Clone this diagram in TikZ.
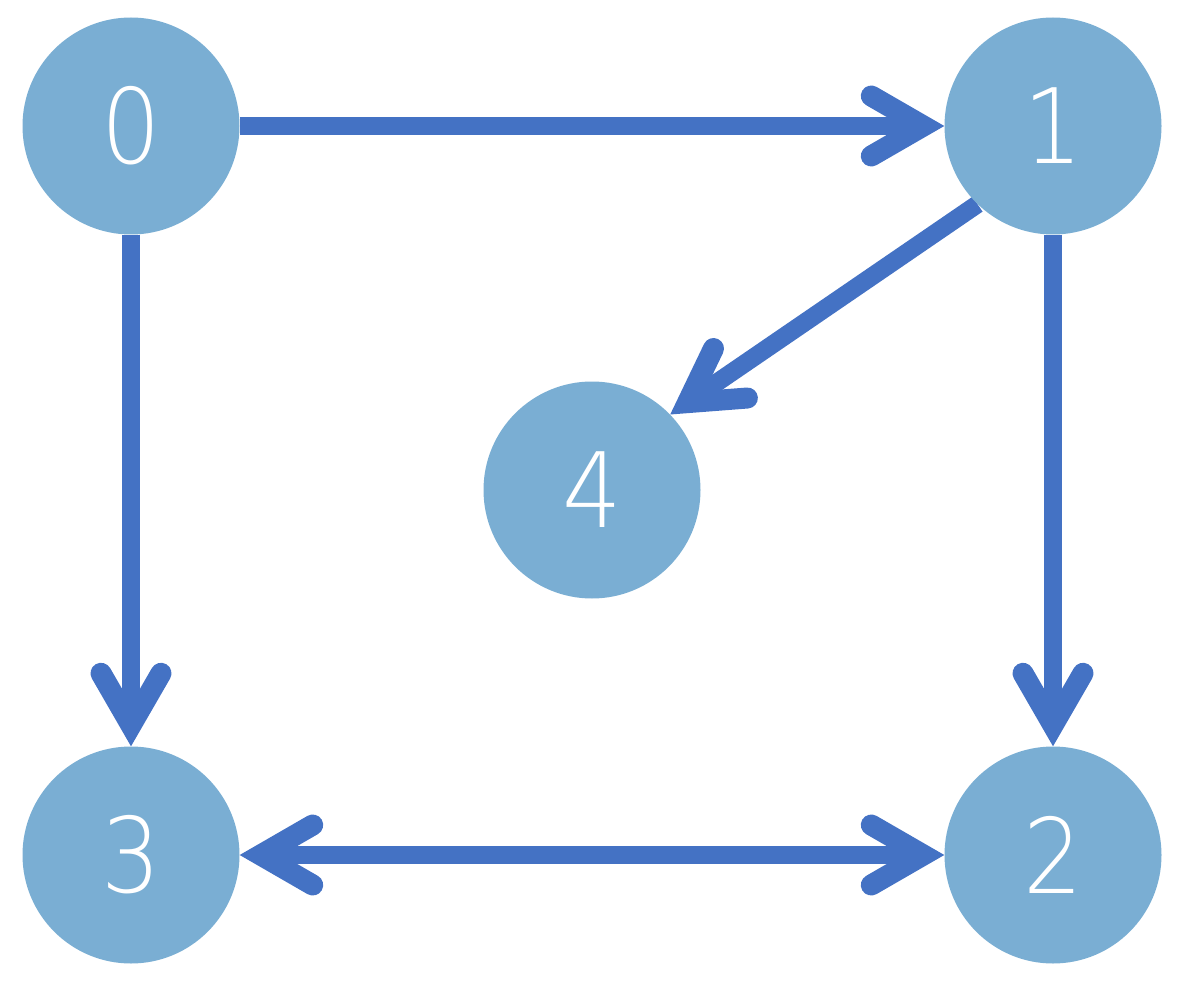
\documentclass[tikz,border=0pt]{standalone}
\usepackage{fontspec}
\newfontfamily\digitfont[FakeStretch=0.9]{DejaVu Sans ExtraLight}
\usetikzlibrary{arrows.meta,backgrounds}
\definecolor{nodefill}{HTML}{7AAED3}
\definecolor{edgeblue}{HTML}{4472C4}
\tikzset{
  barbtip/.tip={Straight Barb[length=52pt,width=60pt,line width=21pt 0 1,line cap=round,line join=miter]}
}
\begin{document}
\begin{tikzpicture}[x=1pt,y=-1pt,
  vertex/.style={circle,fill=nodefill,draw=none,minimum size=217pt,inner sep=0pt,
    text=white,font=\digitfont\fontsize{104}{104}\selectfont},
  edge/.style={draw=edgeblue,line width=18pt,-barbtip},
  bedge/.style={draw=edgeblue,line width=18pt,barbtip-barbtip}]
\useasboundingbox (0,0) rectangle (1183,981);
\node[vertex] (n0) at (131,126) {0};
\node[vertex] (n1) at (1053,126) {1};
\node[vertex] (n4) at (592,490) {4};
\node[vertex] (n3) at (131,855) {3};
\node[vertex] (n2) at (1053,855) {2};
\begin{scope}[on background layer]
\draw[edge] (n0) -- (n1);
\draw[edge] (n0) -- (n3);
\draw[edge] (n1) -- (n2);
\draw[edge] (n1.226) -- (n4.44);
\draw[bedge] (n3) -- (n2);
\end{scope}
\end{tikzpicture}
\end{document}
